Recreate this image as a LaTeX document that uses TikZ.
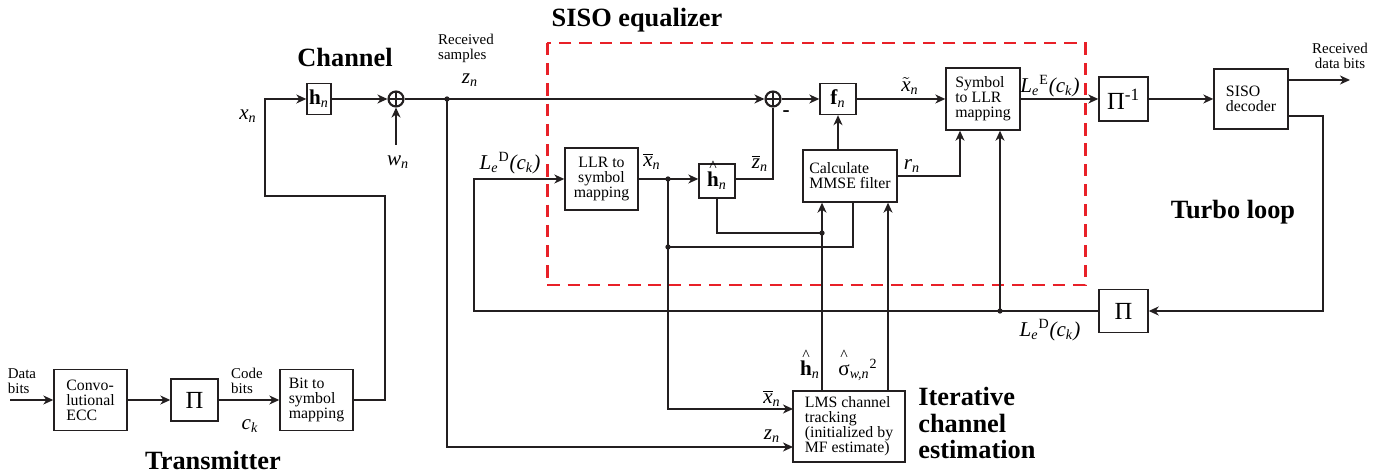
\documentclass[tikz,border=0pt]{standalone}
\usepackage{fontspec}
\setmainfont{Liberation Serif}
\usetikzlibrary{arrows.meta,calc}
\definecolor{eqred}{RGB}{232,32,40}
\definecolor{linegray}{RGB}{35,31,32}
\newcommand{\caretvec}[1]{\ooalign{#1\cr\hidewidth\raisebox{0.72em}{\fontsize{9}{9}\selectfont\textasciicircum}\hidewidth\cr}}
\tikzset{
    procbox/.style={draw=linegray, line width=0.8pt, align=left, inner sep=1pt,
        font=\fontsize{9}{8.6}\selectfont},
    permbox/.style={draw=linegray, line width=0.8pt, inner sep=0pt,
        font=\fontsize{14}{14}\selectfont},
    gainbox/.style={draw=linegray, line width=0.8pt, inner sep=0pt,
        font=\fontsize{12}{12}\selectfont},
    adder/.style={draw=linegray, circle, line width=1.2pt, minimum size=0.3cm, inner sep=0pt,
        path picture={\draw[line width=1.2pt] (path picture bounding box.north) -- (path picture bounding box.south)
            (path picture bounding box.west) -- (path picture bounding box.east);}},
    varlab/.style={inner sep=0pt, font=\fontsize{12}{13}\selectfont},
    notelab/.style={inner sep=0pt, align=center, font=\fontsize{8.5}{8.6}\selectfont},
    titlelab/.style={inner sep=0pt, align=left, font=\fontsize{15}{15.3}\selectfont\bfseries},
    sigarrow/.style={-{Stealth[length=2mm, width=1.8mm, inset=0.6mm]}, line width=0.8pt, draw=linegray},
    sigline/.style={line width=0.8pt, draw=linegray},
    eqframe/.style={draw=eqred, line width=1.7pt, dash pattern=on 7pt off 4.5pt}
}

\begin{document}
\begin{tikzpicture}[x=0.02cm, y=-0.02cm]
\useasboundingbox (0,0) rectangle (1379,472);
\draw[eqframe] (547,43) rectangle (1085,285);
\node[procbox, minimum width=1.46cm, minimum height=1.22cm] (ecc) at (90.5,400) {Convo-\\lutional\\ECC};
\node[permbox, minimum width=0.94cm, minimum height=0.84cm] (txperm) at (194.5,400) {Π};
\node[procbox, minimum width=1.46cm, minimum height=1.22cm] (bitmap) at (316.5,400) {Bit to\\symbol\\mapping};
\node[gainbox, minimum width=0.48cm, minimum height=0.62cm] (chan) at (319,99) {\textbf{h}\textsubscript{\textit{n}}};
\node[adder] (sum1) at (396,99) {};
\node[adder] (sum2) at (773,99) {};
\node[gainbox, minimum width=0.72cm, minimum height=0.62cm] (filt) at (838,99) {\textbf{f}\textsubscript{\textit{n}}};
\node[procbox, align=center, minimum width=1.46cm, minimum height=1.24cm] (llrsym) at (601.5,179) {LLR to\\symbol\\mapping};
\node[gainbox, minimum width=0.72cm, minimum height=0.68cm] (hest) at (717,181) {\caretvec{\textbf{h}}\textsubscript{\textit{n}}};
\node[procbox, minimum width=1.88cm, minimum height=1.04cm] (mmse) at (850,176) {Calculate\\MMSE filter};
\node[procbox, minimum width=1.48cm, minimum height=1.24cm] (symllr) at (983,99) {Symbol\\to LLR\\mapping};
\node[permbox, minimum width=0.98cm, minimum height=0.88cm] (invperm) at (1123.5,99) {Π\textsuperscript{-1}};
\node[procbox, minimum width=1.48cm, minimum height=1.2cm] (decoder) at (1251,99) {SISO\\decoder};
\node[permbox, minimum width=0.98cm, minimum height=0.86cm] (rxperm) at (1123.5,311) {Π};
\node[procbox, minimum width=2.24cm, minimum height=1.42cm] (lms) at (849,426.5) {LMS channel\\tracking\\(initialized by\\MF estimate)};

\coordinate (datain) at (10,400);
\coordinate (txup) at (385,196);
\coordinate (txleft) at (265,196);
\coordinate (noise) at (396,145);
\coordinate (rxdot) at (447,99);
\coordinate (xdot) at (668,179);
\coordinate (xdot2) at (668,247);
\coordinate (hdot) at (822,233);
\coordinate (mmsein) at (853,202);
\coordinate (sigtap) at (888,300);
\coordinate (rtap) at (960,300);
\coordinate (fbdot) at (1000,311);
\coordinate (fbright) at (1323,311);
\coordinate (fbleft) at (474,311);
\coordinate (rxout) at (1350,80);
\coordinate (lmsxin) at (793,409);
\coordinate (lmszin) at (793,447);

\draw[sigarrow] (datain) -- (ecc);
\draw[sigarrow] (ecc) -- (txperm);
\draw[sigarrow] (txperm) -- (bitmap);
\draw[sigarrow] (bitmap.east) -| (txup) -- (txleft) |- (chan.west);
\draw[sigarrow] (chan) -- (sum1);
\draw[sigarrow] (noise) -- (sum1);
\draw[sigarrow] (sum1) -- (sum2);
\draw[sigarrow] (rxdot) |- (lmszin);
\draw[sigarrow] (sum2) -- (filt);
\draw[sigarrow] (filt) -- (symllr);
\draw[sigarrow] (symllr) -- (invperm);
\draw[sigarrow] (invperm) -- (decoder);
\draw[sigarrow] (decoder.east |- rxout) -- (rxout);
\draw[sigarrow] ($(decoder.east)+(0,17)$) -| (fbright) -- (rxperm);
\draw[sigarrow] (rxperm) -- (fbleft) |- (llrsym.west);
\draw[sigarrow] (fbdot) -- (symllr.south -| fbdot);
\draw[sigarrow] (llrsym) -- (hest.west |- xdot);
\draw[sigline] (hest.east |- xdot) -| (sum2.south);
\draw[sigline] (hest.south) |- (hdot);
\draw[sigarrow] (xdot) |- (lmsxin);
\draw[sigline] (xdot2) -| (mmsein);
\draw[sigarrow] (lms.north -| hdot) -- (mmse.south -| hdot);
\draw[sigarrow] (lms.north -| sigtap) -- (mmse.south -| sigtap);
\draw[sigarrow] (mmse.north -| filt) -- (filt.south);
\draw[sigarrow] (mmse.east) -| (symllr.south -| rtap);
\foreach \p in {rxdot,xdot,xdot2,hdot,fbdot}
    \fill[linegray] (\p) circle[radius=1.5pt];

\node[notelab, align=left] (datalab) at (22,381) {Data\\bits};
\node[notelab, align=left] (codelab) at (247,381) {Code\\bits};
\node[varlab] (cklab) at (250,426) {\textit{c}\textsubscript{\textit{k}}};
\node[titlelab] (txtitle) at (213,460) {Transmitter};
\node[titlelab] (chtitle) at (345,57) {Channel};
\node[varlab] (xnlab) at (248,116) {\textit{x}\textsubscript{\textit{n}}};
\node[varlab] (wnlab) at (398,162) {\textit{w}\textsubscript{\textit{n}}};
\node[notelab, align=left] (rxlab) at (466,48) {Received\\samples};
\node[varlab] (znlab) at (470,80) {\textit{z}\textsubscript{\textit{n}}};
\node[titlelab] (eqtitle) at (637,20) {SISO equalizer};
\node[varlab] (ldlab) at (510,163) {\textit{L}\textsubscript{\textit{e}}\textsuperscript{D}\textit{(c}\textsubscript{\textit{k}}\textit{)}};
\node[varlab] (xbarlab) at (652,161) {$\overline{\mbox{\textit{x}}}$\textsubscript{\textit{n}}};
\node[varlab] (zbarlab) at (760,163) {$\overline{\mbox{\textit{z}}}$\textsubscript{\textit{n}}};
\node[varlab] (minuslab) at (786,114) {\textbf{-}};
\node[varlab] (xtillab) at (910,86) {$\tilde{\mbox{\textit{x}}}$\textsubscript{\textit{n}}};
\node[varlab] (rnlab) at (912,166) {\textit{r}\textsubscript{\textit{n}}};
\node[varlab] (lelab) at (1050,86) {\textit{L}\textsubscript{\textit{e}}\textsuperscript{E}\textit{(c}\textsubscript{\textit{k}}\textit{)}};
\node[notelab] (outlab) at (1340,56) {Received\\data bits};
\node[titlelab] (turbotitle) at (1233,212) {Turbo loop};
\node[varlab] (ldlab2) at (1050,330) {\textit{L}\textsubscript{\textit{e}}\textsuperscript{D}\textit{(c}\textsubscript{\textit{k}}\textit{)}};
\node[varlab] (hhatlab) at (810,370) {\caretvec{\textbf{h}}\textsubscript{\textit{n}}};
\node[varlab] (siglab) at (858,370) {\caretvec{σ}\textsubscript{\textit{w,n}}\textsuperscript{2}};
\node[varlab] (xbarlab2) at (772,398) {$\overline{\mbox{\textit{x}}}$\textsubscript{\textit{n}}};
\node[varlab] (znlab2) at (772,436) {\textit{z}\textsubscript{\textit{n}}};
\node[titlelab, anchor=west] (esttitle) at (918,423) {Iterative\\channel\\estimation};
\end{tikzpicture}
\end{document}
